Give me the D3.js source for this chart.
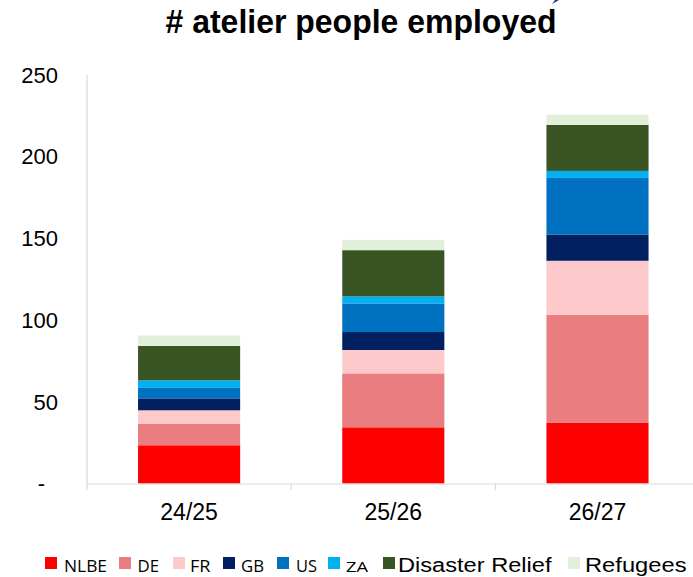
<!DOCTYPE html>
<html>
<head>
<meta charset="utf-8">
<script src="https://cdn.jsdelivr.net/npm/d3@7"></script>
<style>
  html, body { margin: 0; padding: 0; background: #fff; }
  svg { display: block; }
</style>
</head>
<body>
<svg id="chart" width="693" height="577"></svg>
<script>
// ---- data ----
const categories = ["24/25", "25/26", "26/27"];
const seriesNames = ["NLBE", "DE", "FR", "GB", "US", "ZA", "Disaster Relief", "Refugees"];
const NLBE = [23.4, 34.4, 37.3];
const DE = [13.3, 33.0, 66.0];
const FR = [8.1, 14.3, 33.0];
const GB = [7.3, 11.0, 16.1];
const US = [6.4, 17.5, 34.6];
const ZA = [4.6, 4.3, 4.3];
const DisasterRelief = [21.1, 28.3, 28.1];
const Refugees = [6.4, 6.3, 6.3];
const yTicks = [0, 50, 100, 150, 200, 250];
const title = "# atelier people employed";

const seriesValues = [NLBE, DE, FR, GB, US, ZA, DisasterRelief, Refugees];
const colors = ["#ff0000", "#e97d7f", "#fdc9cb", "#002060", "#0070c0", "#00b0f0", "#3a5524", "#e2efda"];

const rows = categories.map((c, i) => {
  const r = { cat: c };
  seriesNames.forEach((s, j) => r[s] = seriesValues[j][i]);
  return r;
});

const svg = d3.select("#chart");
const axisColor = "#d9d9d9";

const y = d3.scaleLinear().domain([0, 250]).range([483.5, 75]);
const step = 204.2;
const x = d3.scaleBand().domain(categories).range([87, 87 + step * 3]).paddingInner(0.5).paddingOuter(0.25);

// title
svg.append("text")
  .attr("x", 361).attr("y", 33)
  .attr("text-anchor", "middle")
  .attr("font-family", "'Liberation Sans', Arial, sans-serif")
  .attr("font-weight", "bold")
  .attr("font-size", 34)
  .attr("textLength", 391)
  .attr("lengthAdjust", "spacingAndGlyphs")
  .attr("fill", "#000")
  .text(title);

// small artifact at top right
svg.append("path").attr("d", "M552,4 L559,0 L555,0 Z").attr("fill", "#1f3b6e");

// y axis line
svg.append("line").attr("x1", 87).attr("x2", 87).attr("y1", y(250)).attr("y2", 484)
  .attr("stroke", axisColor).attr("stroke-width", 1.2);

// y tick labels
svg.append("g").selectAll("text").data(yTicks).join("text")
  .attr("x", d => d === 0 ? 45 : 58)
  .attr("y", d => y(d))
  .attr("dy", "0.35em")
  .attr("text-anchor", "end")
  .attr("font-family", "'Liberation Sans', Arial, sans-serif")
  .attr("font-size", 22)
  .attr("fill", "#000")
  .text(d => d === 0 ? "-" : d);

// stacked bars
const stack = d3.stack().keys(seriesNames);
const layers = stack(rows);
svg.append("g").selectAll("g").data(layers).join("g")
  .attr("fill", (d, i) => colors[i])
  .selectAll("rect").data(d => d).join("rect")
  .attr("x", d => x(d.data.cat))
  .attr("width", x.bandwidth())
  .attr("y", d => y(d[1]))
  .attr("height", d => y(d[0]) - y(d[1]));

// x axis
const xAxis = svg.append("g");
xAxis.append("line").attr("x1", 87).attr("x2", 693).attr("y1", 484).attr("y2", 484)
  .attr("stroke", axisColor).attr("stroke-width", 1.2);
const tickPos = d3.range(categories.length + 1).map(i => 87 + i * step);
xAxis.selectAll("line.tick").data(tickPos).join("line").attr("class", "tick")
  .attr("x1", d => d).attr("x2", d => d).attr("y1", 484).attr("y2", 490)
  .attr("stroke", axisColor).attr("stroke-width", 1.2);
xAxis.selectAll("text").data(categories).join("text")
  .attr("x", d => x(d) + x.bandwidth() / 2)
  .attr("y", 520)
  .attr("text-anchor", "middle")
  .attr("font-family", "'Liberation Sans', Arial, sans-serif")
  .attr("font-size", 23)
  .attr("fill", "#000")
  .text(d => d);

// legend
const legendItems = [
  { sx: 45, tx: 64, tw: 43, font: "'Open Sans', sans-serif", fs: 16 },
  { sx: 119, tx: 137.5, tw: 21.5, font: "'Open Sans', sans-serif", fs: 16 },
  { sx: 173, tx: 190, tw: 20.5, font: "'Open Sans', sans-serif", fs: 16 },
  { sx: 223, tx: 241, tw: 23, font: "'Open Sans', sans-serif", fs: 16 },
  { sx: 277, tx: 296, tw: 21, font: "'Open Sans', sans-serif", fs: 16 },
  { sx: 328, tx: 346, tw: 22, font: "'Open Sans', sans-serif", fs: 14 },
  { sx: 383, tx: 398, tw: 153.5, font: "'Liberation Sans', Arial, sans-serif", fs: 20 },
  { sx: 568, tx: 585, tw: 101.5, font: "'Liberation Sans', Arial, sans-serif", fs: 20 }
];
const lg = svg.append("g").selectAll("g").data(seriesNames).join("g");
lg.append("rect")
  .attr("x", (d, i) => legendItems[i].sx).attr("y", 557)
  .attr("width", 12).attr("height", 12)
  .attr("fill", (d, i) => colors[i]);
lg.append("text")
  .attr("x", (d, i) => legendItems[i].tx).attr("y", 571.5)
  .attr("font-family", (d, i) => legendItems[i].font)
  .attr("font-size", (d, i) => legendItems[i].fs)
  .attr("textLength", (d, i) => legendItems[i].tw)
  .attr("lengthAdjust", "spacingAndGlyphs")
  .attr("fill", "#000")
  .text(d => d);
</script>
</body>
</html>
